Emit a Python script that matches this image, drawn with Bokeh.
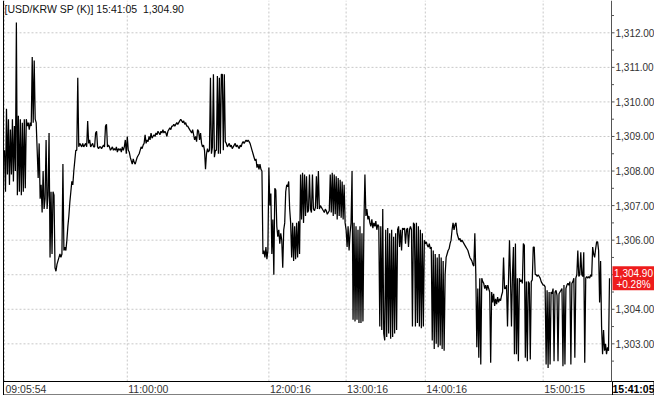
from bokeh.plotting import figure
from bokeh.models import Range1d
from bokeh.core.properties import value
from bokeh.embed import file_html
from bokeh.resources import INLINE

prices = [
    1308.6, 1307.4, 1309.8, 1307.9, 1309.5, 1307.6, 1309.2, 1307.9, 1309.5, 1307.7,
    1309.3, 1308.0, 1312.3, 1307.3, 1309.6, 1307.4, 1309.5, 1307.3, 1309.4, 1307.4,
    1309.5, 1307.5, 1309.5, 1309.3, 1309.4, 1309.2, 1309.4, 1309.3, 1311.3, 1309.4,
    1311.2, 1309.5, 1309.4, 1308.6, 1307.8, 1308.8, 1307.2, 1307.6, 1306.8, 1308.0,
    1306.9, 1307.2, 1308.9, 1306.9, 1307.3, 1309.1, 1305.5, 1307.4, 1305.6, 1307.4,
    1307.3, 1305.2, 1305.1, 1305.3, 1305.4, 1305.5, 1305.6, 1305.5, 1305.6, 1308.2,
    1305.7, 1305.8, 1305.7, 1306.0, 1306.4, 1306.7, 1307.1, 1307.4, 1307.7, 1307.6,
    1308.0, 1308.3, 1308.6, 1308.6, 1310.7, 1308.7, 1308.8, 1308.75, 1308.7, 1308.8,
    1308.7, 1308.75, 1308.8, 1308.7, 1309.45, 1308.8, 1308.9, 1308.7, 1308.75, 1308.8,
    1308.7, 1308.7, 1309.1, 1309.15, 1308.7, 1308.65, 1308.7, 1308.7, 1308.65, 1308.7,
    1308.75, 1308.7, 1309.3, 1309.35, 1308.7, 1308.75, 1308.7, 1308.6, 1308.65, 1308.7,
    1308.6, 1308.65, 1308.6, 1308.7, 1308.55, 1308.65, 1308.6, 1308.65, 1308.55, 1308.7,
    1308.6, 1308.7, 1308.9, 1308.5, 1309.0, 1308.6, 1308.55, 1308.4, 1308.3, 1308.2,
    1308.35, 1308.25, 1308.2, 1308.3, 1308.4, 1308.45, 1308.5, 1308.6, 1308.7, 1308.65,
    1308.75, 1308.8, 1309.05, 1308.8, 1308.9, 1308.85, 1309.0, 1308.9, 1309.1, 1308.95,
    1309.0, 1309.05, 1309.0, 1309.1, 1309.05, 1309.15, 1309.1, 1309.05, 1309.15, 1309.1,
    1309.2, 1309.1, 1309.15, 1309.1, 1309.0, 1309.15, 1309.2, 1309.25, 1309.2, 1309.3,
    1309.3, 1309.35, 1309.3, 1309.35, 1309.4, 1309.35, 1309.4, 1309.45, 1309.5, 1309.45,
    1309.4, 1309.45, 1309.35, 1309.4, 1309.3, 1309.3, 1309.25, 1309.2, 1309.15, 1309.1,
    1309.2, 1309.05, 1308.9, 1309.0, 1308.85, 1309.2, 1309.15, 1308.9, 1309.1, 1308.8,
    1308.7, 1308.75, 1308.6, 1308.05, 1308.5, 1308.65, 1308.55, 1308.6, 1310.7, 1308.5,
    1308.7, 1310.8, 1308.4, 1308.6, 1308.6, 1310.75, 1308.5, 1310.7, 1308.5, 1310.8,
    1310.8, 1308.6, 1310.8, 1308.85, 1308.8, 1308.7, 1308.75, 1308.8, 1308.7, 1308.75,
    1308.65, 1308.7, 1308.75, 1308.8, 1308.7, 1308.75, 1308.7, 1308.65, 1308.75, 1308.7,
    1308.8, 1308.85, 1308.8, 1308.85, 1308.9, 1308.85, 1308.9, 1308.85, 1308.8, 1308.7,
    1308.6, 1308.5, 1308.4, 1308.3, 1308.35, 1308.1, 1308.2, 1308.05, 1308.2, 1308.05,
    1308.0, 1305.6, 1305.7, 1305.5, 1305.8, 1305.45, 1305.7, 1308.1, 1307.0, 1307.35,
    1305.6, 1306.6, 1305.0, 1307.5, 1307.45, 1306.4, 1306.1, 1306.3, 1305.9, 1306.2,
    1306.0, 1305.2, 1306.3, 1306.5, 1307.4, 1307.6, 1307.55, 1307.7, 1306.9, 1306.5,
    1305.5, 1306.5, 1305.4, 1306.4, 1305.45, 1306.5, 1305.5, 1306.55, 1305.6, 1307.9,
    1306.6, 1307.95, 1306.5, 1307.9, 1306.7, 1307.85, 1306.8, 1306.85, 1307.9, 1306.9,
    1306.8, 1307.9, 1306.9, 1306.85, 1306.95, 1307.85, 1306.9, 1308.0, 1306.9, 1307.0,
    1306.95, 1306.9, 1306.85, 1306.8, 1306.9, 1306.85, 1306.75, 1306.8, 1306.85, 1307.9,
    1306.8, 1307.95, 1306.7, 1307.9, 1306.75, 1307.85, 1306.6, 1307.8, 1306.7, 1307.75,
    1306.65, 1307.7, 1306.6, 1307.6, 1306.5, 1306.3, 1305.8, 1306.4, 1305.7, 1306.2,
    1306.5, 1308.0, 1303.7, 1306.5, 1303.65, 1306.4, 1303.7, 1306.3, 1303.6, 1306.4,
    1303.6, 1306.2, 1303.65, 1306.5, 1307.9, 1306.7, 1306.9, 1306.6, 1306.7, 1306.5,
    1306.4, 1306.6, 1306.35, 1306.5, 1306.4, 1306.55, 1306.3, 1306.45, 1306.4, 1303.5,
    1306.4, 1303.4, 1306.9, 1303.3, 1303.1, 1306.3, 1303.2, 1306.35, 1303.3, 1306.2,
    1303.15, 1306.3, 1303.2, 1306.1, 1303.3, 1306.2, 1303.4, 1306.3, 1306.4, 1305.8,
    1306.3, 1305.7, 1306.35, 1306.3, 1306.35, 1305.9, 1306.3, 1306.35, 1305.8, 1306.3,
    1306.4, 1306.3, 1303.5, 1306.5, 1306.45, 1303.5, 1306.5, 1303.6, 1306.4, 1303.5,
    1306.3, 1303.45, 1306.2, 1303.5, 1306.0, 1305.9, 1305.95, 1305.85, 1305.8, 1305.9,
    1305.75, 1305.8, 1303.1, 1305.7, 1302.85, 1305.6, 1303.0, 1305.5, 1302.9, 1305.6,
    1302.95, 1305.5, 1302.85, 1305.4, 1302.8, 1305.0, 1305.5, 1305.6, 1305.7, 1305.75,
    1305.9, 1306.0, 1306.3, 1306.5, 1306.3, 1306.45, 1306.5, 1306.2, 1306.1, 1306.0,
    1306.05, 1305.95, 1306.0, 1305.95, 1305.9, 1305.85, 1305.8, 1305.75, 1305.7, 1305.6,
    1305.5, 1305.45, 1305.4, 1305.3, 1305.25, 1306.2, 1305.0, 1302.9, 1304.6, 1302.6,
    1304.9, 1302.4, 1304.9, 1304.8, 1304.75, 1304.6, 1304.7, 1304.55, 1304.7, 1304.6,
    1304.5, 1302.45, 1304.5, 1304.2, 1304.45, 1304.1, 1304.3, 1304.15, 1304.35, 1304.2,
    1304.3, 1304.25, 1304.4, 1304.5, 1305.5, 1304.6, 1304.6, 1304.7, 1303.5, 1304.8,
    1306.0, 1304.9, 1303.5, 1305.0, 1305.8, 1302.7, 1305.9, 1302.7, 1304.9, 1302.5,
    1304.9, 1304.8, 1304.85, 1304.75, 1305.9, 1305.85, 1302.6, 1304.8, 1302.5, 1304.8,
    1304.75, 1302.55, 1304.8, 1304.85, 1305.8, 1305.8, 1305.0, 1305.0, 1304.95, 1305.0,
    1304.95, 1304.9, 1304.8, 1304.75, 1304.7, 1304.7, 1304.65, 1302.4, 1304.55, 1302.3,
    1304.5, 1302.4, 1304.5, 1304.45, 1304.6, 1302.5, 1304.5, 1304.55, 1304.4, 1302.5,
    1304.45, 1304.5, 1304.55, 1304.6, 1302.35, 1304.7, 1302.4, 1304.6, 1304.7, 1304.75,
    1304.7, 1304.8, 1302.4, 1304.75, 1304.8, 1304.9, 1302.6, 1304.9, 1305.0, 1305.7,
    1304.95, 1305.0, 1305.65, 1305.0, 1304.95, 1305.65, 1302.45, 1304.9, 1304.95, 1304.9,
    1304.95, 1304.9, 1305.0, 1304.95, 1305.8, 1305.6, 1305.5, 1305.75, 1305.95, 1305.95,
    1305.7, 1304.2, 1305.4, 1303.5, 1302.7, 1303.4, 1302.8, 1303.0, 1302.7, 1302.9,
    1302.8, 1304.9,
]

time_labels = ["09:05:54", "11:00:00", "12:00:16", "13:00:16", "14:00:16", "15:00:15"]
time_label_idx = [0, 124, 267, 345, 425, 544]
last_time = "15:41:05"
last_price = 1304.90
change_text = "+0.28%"
title_text = "[USD/KRW SP (K)] 15:41:05\u00a0 1,304.90"
price_ticks = [1303, 1304, 1305, 1306, 1307, 1308, 1309, 1310, 1311, 1312]
price_minor_ticks = [1302.5, 1303.5, 1304.5, 1305.5, 1306.5, 1307.5, 1308.5,
                     1309.5, 1310.5, 1311.5, 1312.5]

FONT = value("Liberation Sans")
W, H = 654, 395

# layout helpers: canvas pixel -> data coordinate (index units / price units)
KX = 605.0 / 611.0
X0 = -4.0 / KX
KY = 34.56
Y1 = 1312.0 + 32.3 / KY


def xpx(px):
    return X0 + px / KX


def ypx(py):
    return Y1 - py / KY


x = list(range(len(prices)))

p = figure(width=W, height=H, output_backend="svg", toolbar_location=None,
           x_range=Range1d(X0, xpx(W)), y_range=Range1d(ypx(H), Y1),
           x_axis_location=None, y_axis_location=None, min_border=0)
p.outline_line_color = None
p.background_fill_color = "white"
p.border_fill_color = "white"
p.grid.visible = False

PLOT_L = xpx(3)
AXIS_X = xpx(611)
PLOT_B = ypx(381)
ROW_MID = ypx(388)
ROW_B = ypx(394.5)
RIGHT = xpx(653.5)

GRID = "#c8c8c8"
n = len(price_ticks)

# gridlines
p.segment(x0=[PLOT_L] * n, y0=price_ticks, x1=[AXIS_X] * n, y1=price_ticks,
          line_color=GRID, line_dash="2 2", line_width=1)
p.segment(x0=time_label_idx, y0=[PLOT_B] * len(time_label_idx),
          x1=time_label_idx, y1=[Y1] * len(time_label_idx),
          line_color=GRID, line_dash="2 2", line_width=1)

# price series
p.line(x, prices, line_color="black", line_width=1.25)

# frame lines
p.segment(x0=[PLOT_L, PLOT_L, PLOT_L], y0=[Y1, PLOT_B, ROW_B],
          x1=[PLOT_L, RIGHT, RIGHT], y1=[ROW_B, PLOT_B, ROW_B],
          line_color="black", line_width=1)

# right price axis
p.segment(x0=[AXIS_X], y0=[Y1], x1=[AXIS_X], y1=[PLOT_B],
          line_color="#555555", line_width=1)
p.segment(x0=[AXIS_X] * n, y0=price_ticks, x1=[xpx(614)] * n, y1=price_ticks,
          line_color="#555555", line_width=1)
m = len(price_minor_ticks)
p.segment(x0=[AXIS_X] * m, y0=price_minor_ticks, x1=[xpx(613.5)] * m,
          y1=price_minor_ticks, line_color="#555555", line_width=1)
p.text(x=[xpx(615)] * n, y=price_ticks, text=[f"{v:,.2f}" for v in price_ticks],
       text_align="left", text_baseline="middle", text_font=FONT,
       text_font_size="10px", text_color="#333333")

# last price marker
p.quad(left=[xpx(612)], right=[xpx(W)], top=[last_price + 12 / KY],
       bottom=[last_price - 12 / KY], fill_color="#ee1c1c", line_color=None)
p.text(x=[xpx(633), xpx(633)], y=[last_price, last_price],
       text=[f"{last_price:,.2f}", change_text], y_offset=[-5.5, 6],
       text_align="center", text_baseline="middle", text_font=FONT,
       text_font_size="10px", text_color="white")

# time labels row
p.text(x=time_label_idx, y=[ROW_MID] * len(time_label_idx), text=time_labels,
       x_offset=1, text_align="left", text_baseline="middle", text_font=FONT,
       text_font_size="10.5px", text_color="#333333")
p.quad(left=[xpx(612)], right=[RIGHT], top=[PLOT_B], bottom=[ROW_B],
       fill_color="white", line_color="black", line_width=1)
p.text(x=[xpx(633)], y=[ROW_MID], text=[last_time], text_align="center",
       text_baseline="middle", text_font=FONT, text_font_size="10.5px",
       text_font_style="bold", text_color="black")

# title
p.text(x=[xpx(4)], y=[Y1], y_offset=2, text=[title_text], text_align="left",
       text_baseline="top", text_font=FONT, text_font_size="10.5px",
       text_color="#111111")

open("out.html", "w").write(file_html(p, INLINE))
